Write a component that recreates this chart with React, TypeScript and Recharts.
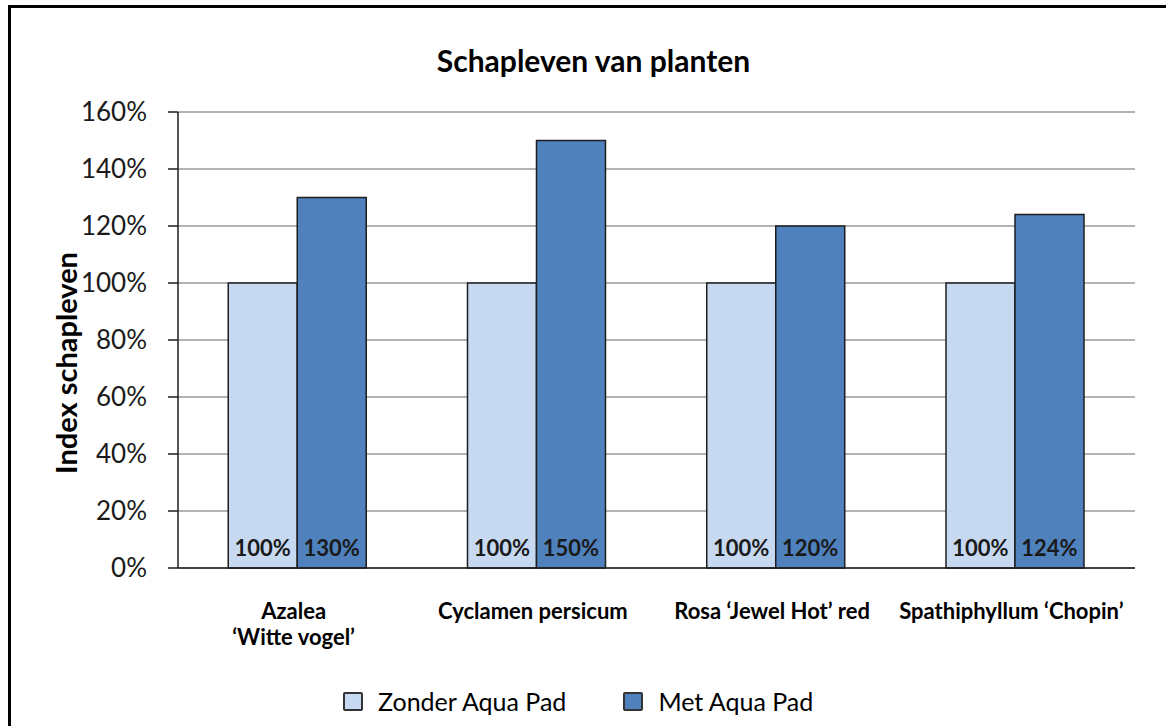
import React from 'react';
import { BarChart, Bar, XAxis, YAxis, CartesianGrid, LabelList } from 'recharts';

// categorieën (planten)
const planten = [
  ['Azalea', '\u2018Witte vogel\u2019'],
  ['Cyclamen persicum'],
  ['Rosa \u2018Jewel Hot\u2019 red'],
  ['Spathiphyllum \u2018Chopin\u2019'],
];
const zonderAquaPad = [100, 100, 100, 100];
const metAquaPad = [130, 150, 120, 124];
const yTicks = [0, 20, 40, 60, 80, 100, 120, 140, 160];

const LICHT = '#C6D9F1';
const DONKER = '#4F81BD';
const RAND = '#1e1e1e';
const FONT = 'Lato, "Open Sans", sans-serif';

const data = planten.map((naam, i) => ({
  naam: naam.join('\n'),
  zonder: zonderAquaPad[i],
  met: metAquaPad[i],
}));

const XTick = (props: any) => {
  const { x, y, payload } = props;
  const regels = String(payload.value).split('\n');
  return (
    <text x={x - 4} y={y} textAnchor="middle" fontFamily={FONT} fontWeight={700} fontSize={22} fill="#000">
      {regels.map((r, i) => (
        <tspan key={i} x={x - 4} dy={i === 0 ? 43 : 26}>{r}</tspan>
      ))}
    </text>
  );
};

const BalkLabel = (props: any) => {
  const { x, y, width, height, value } = props;
  return (
    <text
      x={x + width / 2}
      y={y + height - 12}
      textAnchor="middle"
      fontFamily={FONT}
      fontWeight={700}
      fontSize={22}
      fill="#1a1a1a"
    >
      {value}%
    </text>
  );
};

const YLabel = (props: any) => {
  const { viewBox } = props;
  const cx = viewBox.x - 53;
  const cy = 363;
  return (
    <text
      x={cx}
      y={cy}
      transform={`rotate(-90, ${cx}, ${cy})`}
      textAnchor="middle"
      dominantBaseline="central"
      fontFamily={FONT}
      fontWeight={700}
      fontSize={29}
      fill="#000"
    >
      Index schapleven
    </text>
  );
};

const legenda = [
  { naam: 'Zonder Aqua Pad', kleur: LICHT },
  { naam: 'Met Aqua Pad', kleur: DONKER },
];

export default function App() {
  return (
    <div style={{ position: 'fixed', left: 0, top: 0, width: 1166, height: 726, overflow: 'hidden', background: '#fff' }}>
      <div
        style={{
          position: 'absolute',
          left: 8,
          top: 5,
          width: 1200,
          height: 760,
          border: '3px solid #000',
          boxSizing: 'border-box',
        }}
      />
      <div
        style={{
          position: 'absolute',
          left: 0,
          top: 42,
          width: 1187,
          textAlign: 'center',
          fontFamily: FONT,
          fontWeight: 700,
          fontSize: 30,
          color: '#000',
        }}
      >
        Schapleven van planten
      </div>
      <div style={{ position: 'absolute', left: 0, top: 0 }}>
        <BarChart
          width={1166}
          height={726}
          data={data}
          margin={{ top: 112, right: 31, bottom: 98, left: 118 }}
          barCategoryGap="21%"
          barGap={0}
        >
          <CartesianGrid vertical={false} stroke="#9a9a9a" strokeWidth={1.5} />
          <XAxis
            dataKey="naam"
            height={60}
            tickLine={false}
            axisLine={{ stroke: RAND, strokeWidth: 1.5 }}
            tick={<XTick />}
            interval={0}
          />
          <XAxis
            xAxisId="boven"
            dataKey="naam"
            orientation="top"
            height={0}
            tick={false}
            tickLine={false}
            axisLine={{ stroke: '#333', strokeWidth: 1.5 }}
          />
          <YAxis
            width={60}
            domain={[0, 160]}
            ticks={yTicks}
            tickFormatter={(v: number) => `${v}%`}
            tickSize={10}
            tickMargin={21}
            tickLine={{ stroke: RAND, strokeWidth: 1.5 }}
            axisLine={{ stroke: RAND, strokeWidth: 1.5 }}
            tick={{ fontFamily: FONT, fontSize: 26, fill: '#1a1a1a' }}
            label={<YLabel />}
          />
          <YAxis
            yAxisId="rechts"
            orientation="right"
            width={0}
            domain={[0, 160]}
            tick={false}
            tickLine={false}
            axisLine={{ stroke: '#333', strokeWidth: 1.5 }}
          />
          <Bar dataKey="zonder" fill={LICHT} stroke={RAND} strokeWidth={1.5} isAnimationActive={false}>
            <LabelList dataKey="zonder" content={<BalkLabel />} />
          </Bar>
          <Bar dataKey="met" fill={DONKER} stroke={RAND} strokeWidth={1.5} isAnimationActive={false}>
            <LabelList dataKey="met" content={<BalkLabel />} />
          </Bar>
        </BarChart>
      </div>
      <div
        style={{
          position: 'absolute',
          left: 343,
          top: 686,
          display: 'flex',
          alignItems: 'center',
          fontFamily: FONT,
          fontSize: 25,
          color: '#000',
        }}
      >
        {legenda.map((l, i) => (
          <div key={l.naam} style={{ display: 'flex', alignItems: 'center', marginRight: i === 0 ? 57 : 0 }}>
            <span
              style={{
                display: 'inline-block',
                width: 16,
                height: 15,
                background: l.kleur,
                border: '2px solid #333',
                borderRadius: 2,
                marginRight: 15,
              }}
            />
            <span>{l.naam}</span>
          </div>
        ))}
      </div>
    </div>
  );
}
